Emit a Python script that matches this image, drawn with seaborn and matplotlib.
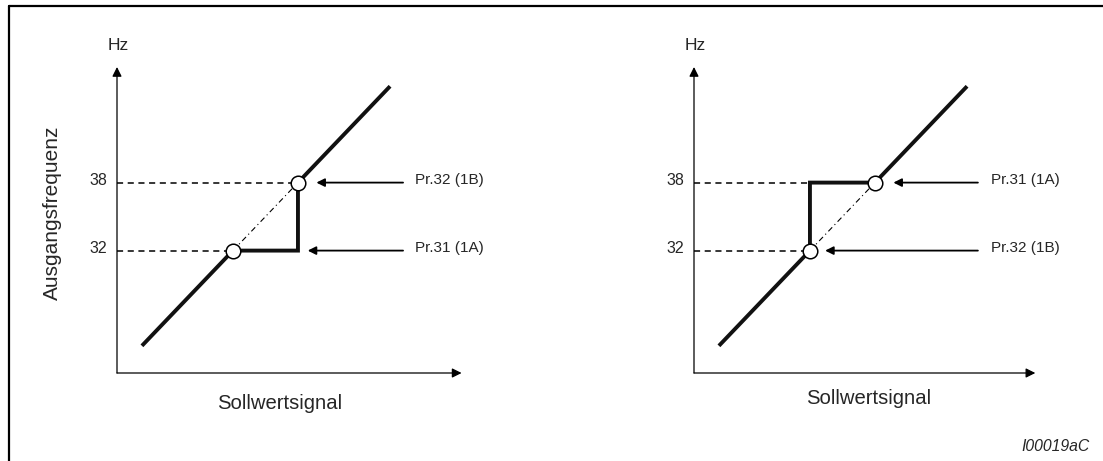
import matplotlib
matplotlib.use("Agg")
import matplotlib.pyplot as plt
import seaborn as sns
import pandas as pd

sns.set_theme(style="white")
plt.rcParams["font.family"] = ["Liberation Sans", "DejaVu Sans"]

# switching points (Hz)
f_low = 32
f_high = 38
ticks = [32, 38]

# characteristic line (signal == Hz on the diagonal)
line_start = 23.6
line_end = 46.5

# thick output path for each panel
left_x = [line_start, f_low, f_high, f_high, line_end]
left_y = [line_start, f_low, f_low, f_high, line_end]
right_x = [line_start, f_low, f_low, f_high, line_end]
right_y = [line_start, f_low, f_high, f_high, line_end]

left_labels = ["Pr.32 (1B)", "Pr.31 (1A)"]   # at 38, 32
right_labels = ["Pr.31 (1A)", "Pr.32 (1B)"]  # at 38, 32

x0, x1 = 21.3, 56.0
y0, y1 = 21.2, 48.2

W, H = 1103, 461
fig = plt.figure(figsize=(W / 100, H / 100), dpi=100)

def px_axes(left, right, bottom_px, top_px):
    return fig.add_axes([left / W, 1 - bottom_px / H, (right - left) / W, (bottom_px - top_px) / H])

ax_l = px_axes(117, 493, 373, 67)
ax_r = px_axes(694, 1070, 373, 67)


def draw_panel(ax, px, py, labels, arrow_tips, x_end, label_x, arrow_start):
    ax.set_xlim(x0, x1)
    ax.set_ylim(y0, y1)
    ax.axis("off")

    # axes with arrows
    ax.annotate("", xy=(x0, y1), xytext=(x0, y0),
                arrowprops=dict(arrowstyle="-|>", color="black", lw=0.9,
                                mutation_scale=14, shrinkA=0, shrinkB=0))
    ax.annotate("", xy=(x_end, y0), xytext=(x0, y0),
                arrowprops=dict(arrowstyle="-|>", color="black", lw=0.9,
                                mutation_scale=14, shrinkA=0, shrinkB=0))
    ax.text(x0 + 0.1, y1 + 1.9, "Hz", ha="center", va="center", fontsize=12.5)

    # dashed reference lines and tick labels
    for f in ticks:
        ax.plot([x0, f], [f, f], color="black", lw=1.1, ls=(0, (4, 3)))
        ax.text(x0 - 0.9, f + 0.2, str(f), ha="right", va="center", fontsize=11.5)

    # thin dash-dot diagonal between the switching points
    ax.plot([f_low, f_high], [f_low, f_high], color="black", lw=0.8,
            ls=(0, (5, 3, 1, 3)))

    df = pd.DataFrame({"x": px, "y": py})
    sns.lineplot(data=df, x="x", y="y", sort=False, estimator=None, ax=ax,
                 color="#111111", lw=2.8, solid_joinstyle="miter",
                 solid_capstyle="butt")

    pts = pd.DataFrame({"x": [f_low, f_high], "y": [f_low, f_high]})
    sns.scatterplot(data=pts, x="x", y="y", ax=ax, s=110, color="white",
                    edgecolor="black", linewidth=1.1, zorder=5)

    for f, lab, tip in zip([f_high, f_low], labels, arrow_tips):
        ax.annotate("", xy=(tip, f), xytext=(arrow_start, f),
                    arrowprops=dict(arrowstyle="-|>", color="black", lw=1.3,
                                    mutation_scale=12, shrinkA=0, shrinkB=0))
        ax.text(label_x, f + 0.2, lab, ha="left", va="center", fontsize=11)
    ax.set_xlabel("")
    ax.set_ylabel("")


draw_panel(ax_l, left_x, left_y, left_labels, [39.7, 38.9], 53.1, 48.8, 47.7)
draw_panel(ax_r, right_x, right_y, right_labels, [39.7, 33.4], 52.8, 48.7, 47.5)

fig.text(280 / W, 1 - 403 / H, "Sollwertsignal", ha="center", va="center", fontsize=14.6)
fig.text(869 / W, 1 - 398 / H, "Sollwertsignal", ha="center", va="center", fontsize=14.6)
fig.text(52 / W, 1 - 213 / H, "Ausgangsfrequenz", ha="center", va="center",
         rotation=90, fontsize=15)
fig.text(1090 / W, 1 - 446 / H, "I00019aC", ha="right", va="center",
         fontsize=11.3, style="italic")

# page frame (top and left edges)
fig.add_artist(plt.Line2D([9 / W, 1], [1 - 6 / H, 1 - 6 / H], color="black", lw=1.6))
fig.add_artist(plt.Line2D([9 / W, 9 / W], [0, 1 - 6 / H], color="black", lw=1.6))

fig.savefig("out.png", dpi=100, facecolor="white")
